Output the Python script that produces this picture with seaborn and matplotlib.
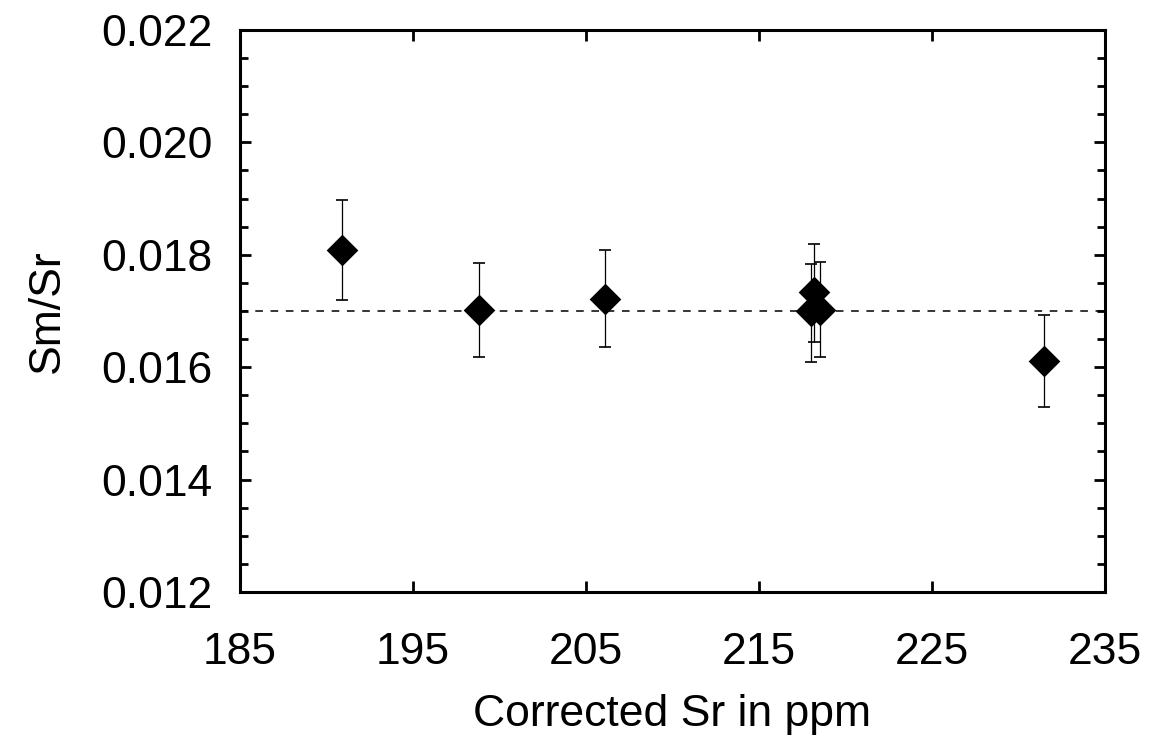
import matplotlib
matplotlib.use("Agg")
import matplotlib.pyplot as plt
import seaborn as sns
import pandas as pd
from matplotlib.ticker import MultipleLocator

sr_ppm = [190.9, 198.8, 206.1, 218.2, 218.0, 218.5, 231.5]
sm_sr = [0.01808, 0.01702, 0.01721, 0.01734, 0.01700, 0.01702, 0.01611]
err_up = [0.00090, 0.00084, 0.00087, 0.00085, 0.00084, 0.00085, 0.00082]
err_dn = [0.00089, 0.00084, 0.00085, 0.00089, 0.00091, 0.00084, 0.00082]
ref_level = 0.0170

x_ticks = [185, 195, 205, 215, 225, 235]
y_ticks = [0.012, 0.014, 0.016, 0.018, 0.020, 0.022]

df = pd.DataFrame({"Sr": sr_ppm, "SmSr": sm_sr})

sns.set_style("ticks")
plt.rcParams['font.family'] = ['Liberation Sans', 'DejaVu Sans']
plt.rcParams['text.color'] = 'black'
plt.rcParams['axes.labelcolor'] = 'black'
plt.rcParams['xtick.color'] = 'black'
plt.rcParams['ytick.color'] = 'black'

fig = plt.figure(figsize=(11.55, 7.42), dpi=100)
ax = fig.add_axes([0.2078, 0.2022, 0.9567 - 0.2078, 0.9596 - 0.2022])

ax.axhline(ref_level, color="black", lw=1.1, ls=(0, (5, 5)), zorder=1)
ax.errorbar(sr_ppm, sm_sr, yerr=[err_dn, err_up], fmt="none", ecolor="black",
            elinewidth=0.9, capsize=4, capthick=1.2, zorder=2)
sns.scatterplot(data=df, x="Sr", y="SmSr", marker="D", s=260, color="black",
                edgecolor="black", linewidth=0, ax=ax, zorder=3)

ax.set_xlim(185, 235)
ax.set_ylim(0.012, 0.022)
ax.set_xticks(x_ticks)
ax.set_yticks(y_ticks)
ax.set_xticklabels([str(v) for v in x_ticks])
ax.set_yticklabels([f"{v:.3f}" for v in y_ticks])
ax.yaxis.set_minor_locator(MultipleLocator(0.0005))

ax.tick_params(axis="both", which="major", direction="in", length=8, width=2,
               top=True, right=True, labelsize=32, color="black", labelcolor="black")
ax.tick_params(axis="x", which="major", pad=29)
ax.tick_params(axis="y", which="major", pad=20)
ax.tick_params(axis="y", which="minor", direction="in", length=6, width=2,
               right=True, left=True)
for sp in ax.spines.values():
    sp.set_visible(True)
    sp.set_linewidth(2.2)
    sp.set_color("black")

ax.set_xlabel("Corrected Sr in ppm", fontsize=32, labelpad=15)
ax.set_ylabel("Sm/Sr", fontsize=32, labelpad=24)

fig.savefig("out.png", dpi=100, facecolor="white")
